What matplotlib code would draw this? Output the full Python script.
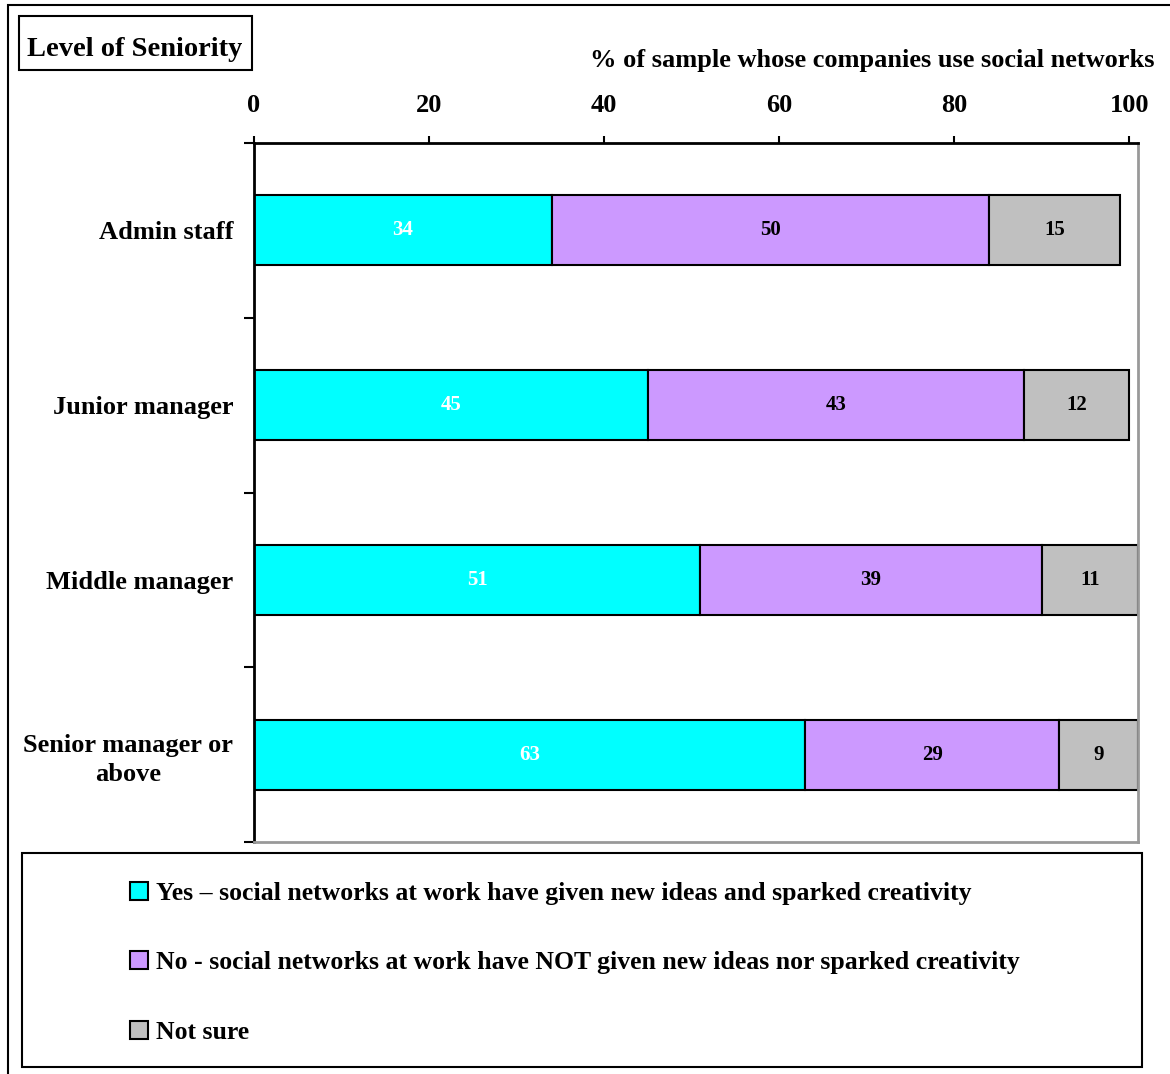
import matplotlib
matplotlib.use('Agg')
import matplotlib.pyplot as plt
from matplotlib.patches import Rectangle

# survey: does use of social networks at work spark creativity, by seniority
categories = ['Admin staff', 'Junior manager', 'Middle manager', 'Senior manager or\nabove']
yes_vals = [34, 45, 51, 63]
no_vals = [50, 43, 39, 29]
unsure_vals = [15, 12, 11, 9]
series_names = ['Yes \u2013 social networks at work have given new ideas and sparked creativity',
                'No - social networks at work have NOT given new ideas nor sparked creativity',
                'Not sure']
x_ticks = [0, 20, 40, 60, 80, 100]

plt.rcParams['font.family'] = ['Liberation Serif', 'DejaVu Serif']
plt.rcParams['font.weight'] = 'bold'

fig = plt.figure(figsize=(11.7, 10.74), dpi=100)
W, H = 1170.0, 1074.0

# outer frame of the picture
fig.patches.append(Rectangle((8 / W, -0.01), 1.2, 1 - 5 / H + 0.01, transform=fig.transFigure,
                             fill=False, edgecolor='black', linewidth=1.5))

ax = fig.add_axes([254 / W, 1 - 842 / H, (1138 - 254) / W, (842 - 143) / H])

ypos = list(range(len(categories)))
colors = ['#00FFFF', '#CC99FF', '#C0C0C0']
txtcol = ['white', 'black', 'black']
left = [0] * len(categories)
bars = []
for vals, col, tc, name in zip([yes_vals, no_vals, unsure_vals], colors, txtcol, series_names):
    b = ax.barh(ypos, vals, left=left, height=0.4, color=col, edgecolor='black',
                linewidth=1.5, label=name)
    bars.append(b)
    ax.bar_label(b, labels=[str(v) for v in vals], label_type='center', color=tc,
                 fontsize=15, fontweight='bold')
    left = [l + v for l, v in zip(left, vals)]

ax.set_xlim(0, 101)
ax.set_ylim(3.5, -0.5)
ax.xaxis.tick_top()
ax.set_xticks(x_ticks)
ax.tick_params(axis='x', labelsize=19, length=5, width=1.5, pad=14)
ax.set_yticks([y + 0.5 for y in ypos[:-1]] + [3.5, -0.5])
ax.set_yticklabels([])
ax.set_yticks(ypos, minor=True)
ax.set_yticklabels(categories, minor=True, fontsize=19, fontweight='bold', linespacing=1.35)
ax.tick_params(axis='y', which='major', length=7, width=1.5)
ax.tick_params(axis='y', which='minor', length=0, pad=15)
for lab in ax.get_yticklabels(minor=True):
    lab.set_horizontalalignment('right')
    lab.set_multialignment('center')
for s in ['top', 'left']:
    ax.spines[s].set_color('black')
    ax.spines[s].set_linewidth(2)
for s in ['right', 'bottom']:
    ax.spines[s].set_color('#999999')
    ax.spines[s].set_linewidth(2)

fig.text(1155 / W, 1 - 61 / H, '% of sample whose companies use social networks',
         ha='right', va='center', fontsize=19, fontweight='bold')

# title box
fig.patches.append(Rectangle((19 / W, 1 - 70 / H), (252 - 19) / W, (70 - 16) / H,
                             transform=fig.transFigure, facecolor='white', edgecolor='black',
                             linewidth=1.5))
fig.text(135 / W, 1 - 49 / H, 'Level of Seniority', ha='center', va='center',
         fontsize=20.5, fontweight='bold')

# legend box
fig.patches.append(Rectangle((22 / W, 1 - 1067 / H), (1142 - 22) / W, (1067 - 853) / H,
                             transform=fig.transFigure, fill=False, edgecolor='black', linewidth=1.5))
leg = fig.legend(handles=bars, labels=series_names, loc='upper left',
                 bbox_to_anchor=(107 / W, 1 - 859 / H), frameon=False,
                 prop={'size': 18.5, 'weight': 'bold'}, handlelength=0.7, handleheight=0.7,
                 handletextpad=0.3, labelspacing=1.8)
for h in leg.legend_handles:
    h.set_linewidth(1.5)

fig.savefig('out.png', dpi=100)
